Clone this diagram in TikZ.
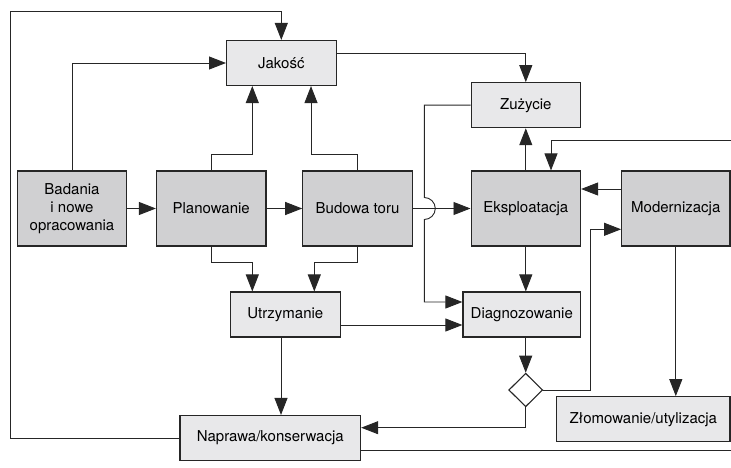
\documentclass[tikz,border=0pt]{standalone}
\usepackage{fontspec}
\setmainfont{TeX Gyre Heros}
\usetikzlibrary{arrows.meta, shapes.geometric}

\definecolor{boxlight}{RGB}{232,232,234}
\definecolor{boxdark}{RGB}{208,208,210}

\begin{document}
\begin{tikzpicture}[
    x=1pt, y=-1pt,
    >={Triangle[length=17pt, width=13pt]},
    line width=0.9pt, draw=black!85,
    every node/.style={font=\fontsize{15}{18}\selectfont, align=center},
    light/.style={draw, line width=1.1pt, fill=boxlight, minimum width=109.5pt, minimum height=45pt, inner sep=0pt},
    dark/.style={light, fill=boxdark, minimum height=75pt},
    decision/.style={draw, diamond, line width=1.1pt, fill=white, minimum width=34pt, minimum height=33.5pt, inner sep=0pt}
]
\useasboundingbox (0,0) rectangle (731,468);

% Boxes
\node[light] (jak) at (281.3,63) {Jakość};
\node[light] (zuz) at (525.8,105.2) {Zużycie};
\node[dark] (bad) at (72,208.5) {Badania\\i nowe\\opracowania};
\node[dark] (plan) at (211.2,208.5) {Planowanie};
\node[dark] (bud) at (357.5,208.5) {Budowa toru};
\node[dark] (eks) at (525.8,208.5) {Eksploatacja};
\node[dark, minimum width=108.3pt] (mod) at (675.8,208.5) {Modernizacja};
\node[light] (utr) at (285.3,314.5) {Utrzymanie};
\node[light, minimum width=117.7pt] (dia) at (521.8,314.5) {Diagnozowanie};
\node[decision] (dec) at (525.7,390) {};
\node[light, minimum width=180.7pt] (nap) at (270.3,438) {Naprawa/konserwacja};
\node[light, minimum width=173.3pt] (zlo) at (643.3,419.2) {Złomowanie/utylizacja};

% Free ends
\coordinate (loop) at (10.7,11.7);
\coordinate (hop) at (424.3,208.5);
\coordinate (inR) at (731,140.7);
\coordinate (outR) at (731,450);

% Main row
\draw[->] (bad.east) -- (plan.west);
\draw[->] (plan.east) -- (bud.west);
\draw[->] (bud.east) -- (eks.west);

% Into Jakosc
\draw[->] (nap.west) -| (loop) -| (jak.north);
\draw[->] (bad.north) |- (jak.west);
\draw[->] (plan.north) -- ++(0,-15.7) -| ([xshift=-29pt]jak.south);
\draw[->] (bud.north) -- ++(0,-15.7) -| ([xshift=29.7pt]jak.south);

% Zuzycie
\draw[->] ([yshift=9.7pt]jak.east) -| (zuz.north);
\draw[->] (eks.north) -- (zuz.south);
\draw[->] (zuz.west) -| ([yshift=11pt]hop)
    arc[start angle=90, end angle=-90, radius=11pt]
    |- ([yshift=12.5pt]dia.west);

% Utrzymanie
\draw[->] (plan.south) -- ++(0,15.7) -| ([xshift=-33pt]utr.north);
\draw[->] (bud.south) -- ++(0,15.7) -| ([xshift=29pt]utr.north);
\draw[->] ([yshift=-10.5pt]utr.east) -- ([yshift=-10.5pt]dia.west);
\draw[->] ([xshift=-4.3pt]utr.south) -- ([xshift=10.7pt]nap.north);

% Eksploatacja, diagnosis and decision
\draw[->] (eks.south) -- (eks.south |- dia.north);
\draw[->] (dec.north |- dia.south) -- (dec.north);
\draw[->] (dec.south) |- ([yshift=10.3pt]nap.east);
\draw[->] (dec.east) -- ++(46.7,0) |- ([yshift=-20.8pt]mod.west);

% Modernizacja
\draw[->] ([yshift=19.5pt]mod.west) -- ([yshift=19.5pt]eks.east);
\draw[->] (mod.south) -- (mod.south |- zlo.north);
\draw[->] (inR) -| ([xshift=25.2pt]eks.north);
\draw ([yshift=-12pt]nap.east) -- (outR);

\end{tikzpicture}
\end{document}
